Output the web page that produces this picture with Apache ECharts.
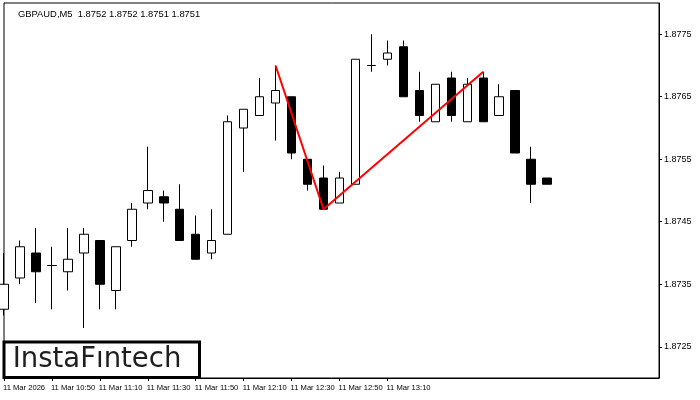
<!DOCTYPE html>
<html>
<head>
<meta charset="utf-8">
<script src="https://cdn.jsdelivr.net/npm/echarts@6/dist/echarts.min.js"></script>
<style>html,body{margin:0;padding:0;background:#fff}#c{width:700px;height:400px}</style>
</head>
<body>
<div id="c"></div>
<script>
// Candle values (M5 bars)
var opens  = [1.8731,1.8736,1.8740,1.8738,1.8737,1.8740,1.8742,1.8734,1.8742,1.8748,1.8749,1.8747,1.8743,1.8740,1.8743,1.8760,1.8762,1.8764,1.8765,1.8755,1.8752,1.8748,1.8751,1.8770,1.8771,1.8773,1.8766,1.8761,1.8768,1.8761,1.8768,1.8762,1.8766,1.8755,1.8752];
var closes = [1.8735,1.8741,1.8737,1.8738,1.8739,1.8743,1.8735,1.8741,1.8747,1.8750,1.8748,1.8742,1.8739,1.8742,1.8761,1.8763,1.8765,1.8766,1.8756,1.8751,1.8747,1.8752,1.8771,1.8770,1.8772,1.8765,1.8762,1.8767,1.8762,1.8767,1.8761,1.8765,1.8756,1.8751,1.8751];
var lows   = [1.8730,1.8735,1.8732,1.8731,1.8734,1.8728,1.8731,1.8731,1.8741,1.8747,1.8745,1.8742,1.8739,1.8739,1.8743,1.8753,1.8762,1.8758,1.8755,1.8750,1.8747,1.8748,1.8751,1.8769,1.8770,1.8765,1.8761,1.8761,1.8761,1.8761,1.8761,1.8762,1.8756,1.8748,1.8751];
var highs  = [1.8740,1.8742,1.8744,1.8741,1.8744,1.8744,1.8742,1.8741,1.8748,1.8757,1.8750,1.8751,1.8746,1.8747,1.8762,1.8763,1.8768,1.8770,1.8765,1.8755,1.8754,1.8753,1.8771,1.8775,1.8774,1.8774,1.8769,1.8767,1.8769,1.8768,1.8769,1.8767,1.8766,1.8757,1.8752];
var slotCount = 42; // bar slots across the chart (empty on the right)
var tickLabels = ['11 Mar 2026','11 Mar 10:50','11 Mar 11:10','11 Mar 11:30','11 Mar 11:50','11 Mar 12:10','11 Mar 12:30','11 Mar 12:50','11 Mar 13:10'];
var tickEvery = 3;
var priceTicks = [1.8725,1.8735,1.8745,1.8755,1.8765,1.8775];
var patternIdx = [17,20,30];
var patternPrice = [1.8770,1.8747,1.8769];
var lastPrice = 1.8751;
var titleText = 'GBPAUD,M5  1.8752 1.8752 1.8751 1.8751';

var cats = [];
for (var i = 0; i < slotCount; i++) {
  var k = i / tickEvery;
  cats.push(i % tickEvery === 0 && k < tickLabels.length ? tickLabels[k] : 'slot' + i);
}
var candles = opens.map(function (o, i) { return [o, closes[i], lows[i], highs[i]]; });
var pattern = patternIdx.map(function (x, i) { return [x, patternPrice[i]]; });
function showTick(idx) { return idx % tickEvery === 0 && idx / tickEvery < tickLabels.length; }

var chart = echarts.init(document.getElementById('c'), null, {renderer: 'canvas'});
chart.setOption({
  animation: false,
  backgroundColor: '#fff',
  title: {
    text: titleText, left: 13, top: 5,
    textStyle: {fontSize: 9.4, fontWeight: 'normal', color: '#000', fontFamily: 'Liberation Sans'}
  },
  grid: {left: 3, right: 41, top: 3, bottom: 22, show: true, borderColor: '#000', borderWidth: 1, backgroundColor: '#fff'},
  xAxis: {
    type: 'category', data: cats, boundaryGap: false,
    axisLine: {show: true, lineStyle: {color: '#000', width: 1}},
    axisTick: {show: true, length: 3, interval: showTick, lineStyle: {color: '#000'}},
    axisLabel: {interval: showTick, hideOverlap: false, align: 'left', margin: 6, fontSize: 7.6, color: '#000',
      fontFamily: 'Liberation Sans', padding: [0, 0, 0, -1]},
    splitLine: {show: false}
  },
  yAxis: {
    type: 'value', position: 'right', min: 1.872, max: 1.878, scale: true,
    axisLine: {show: true, lineStyle: {color: '#000', width: 1}},
    axisTick: {show: true, length: 3, customValues: priceTicks, lineStyle: {color: '#000'}},
    axisLabel: {customValues: priceTicks, margin: 5, fontSize: 9, color: '#000', fontFamily: 'Liberation Sans',
      formatter: function (v) { return v.toFixed(4); }},
    splitLine: {show: false}
  },
  series: [
    {
      type: 'candlestick', data: candles, barWidth: 9, z: 2, clip: true,
      itemStyle: {color: '#fff', color0: '#000', borderColor: '#000', borderColor0: '#000', borderWidth: 1},
      markLine: {
        silent: true, symbol: ['none', 'none'], z: 1,
        lineStyle: {color: '#000', width: 1, type: 'solid'},
        label: {show: true, position: 'end', distance: 2, formatter: lastPrice.toFixed(4),
          backgroundColor: '#000', color: '#fff', fontSize: 9, fontFamily: 'Liberation Sans', padding: [1, 4, 0, 4]},
        data: [{yAxis: lastPrice}]
      }
    },
    {
      type: 'line', data: pattern, symbol: 'none', z: 5,
      lineStyle: {color: '#ff0000', width: 2}
    }
  ],
  graphic: [
    {type: 'rect', shape: {x: 4, y: 342, width: 195.5, height: 35.5}, z: 100,
      style: {fill: '#fff', stroke: '#000', lineWidth: 3}},
    {type: 'text', x: 97, y: 360, z: 101,
      style: {text: 'InstaF\u0131ntech', fill: '#1e1e1e', font: '400 27.5px "DejaVu Sans"', textAlign: 'center', textVerticalAlign: 'middle'}}
  ]
});
</script>
</body>
</html>
